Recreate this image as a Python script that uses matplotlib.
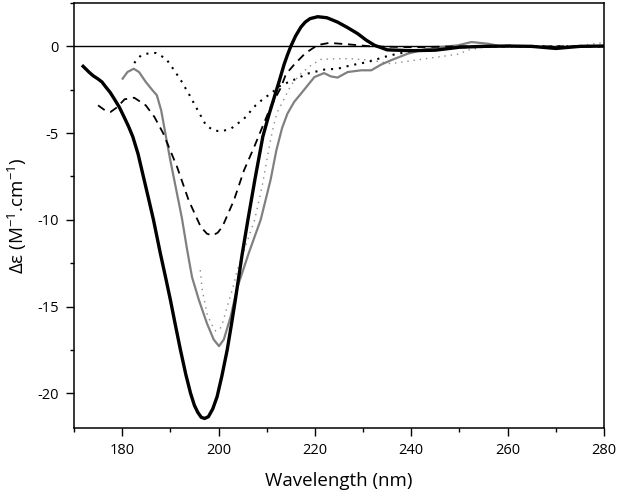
import matplotlib
matplotlib.use("Agg")
import matplotlib.pyplot as plt
from matplotlib.ticker import MultipleLocator

# ---- data ----
thick_wl = [171.9, 173.1, 174.0, 174.9, 175.8, 176.6, 177.5, 178.3, 179.4, 180.4, 181.3, 182.2,
            183.3, 184.4, 185.5, 186.5, 187.9, 189.0, 190.0, 191.0, 192.1, 193.2, 194.2, 195.0,
            195.7, 196.4, 197.1, 197.9, 198.8, 199.7, 200.7, 201.8, 202.7, 203.5, 204.9, 206.1,
            207.6, 209.2, 210.4, 211.5, 212.6, 213.6, 214.3, 215.0, 216.0, 217.1, 218.0, 219.0,
            220.6, 222.5, 224.7, 226.8, 228.9, 230.7, 232.4, 235.0, 240.0, 245.0, 250.0, 255.0,
            260.0, 265.0, 270.0, 275.0, 280.0]
thick_de = [-1.15, -1.48, -1.7, -1.86, -2.05, -2.34, -2.65, -3.0, -3.5, -4.07, -4.6, -5.2,
            -6.2, -7.5, -8.8, -10.0, -11.9, -13.3, -14.6, -16.0, -17.5, -18.9, -20.0, -20.7,
            -21.1, -21.38, -21.45, -21.35, -20.9, -20.2, -19.0, -17.5, -16.0, -14.6, -12.0, -10.0,
            -7.6, -5.2, -4.0, -3.0, -2.0, -1.05, -0.5, 0.0, 0.6, 1.11, 1.4, 1.6,
            1.71, 1.65, 1.4, 1.08, 0.73, 0.35, 0.06, -0.2, -0.25, -0.22, -0.05, 0.0,
            0.02, 0.0, -0.12, 0.0, 0.02]

dash_wl = [175.0, 176.5, 177.6, 179.0, 180.5, 182.5, 184.9, 186.7, 188.5, 191.4, 193.8, 196.3,
           197.6, 198.7, 199.8, 200.8, 203.2, 205.3, 207.4, 209.1, 210.8, 212.9, 214.0, 215.7,
           218.0, 220.6, 223.0, 226.8, 231.7, 240.0, 250.0, 260.0, 270.0, 280.0]
dash_de = [-3.4, -3.7, -3.78, -3.5, -3.05, -2.96, -3.4, -4.07, -5.0, -6.95, -8.87, -10.4,
           -10.8, -10.9, -10.75, -10.4, -8.87, -7.14, -5.8, -4.65, -3.5, -2.4, -1.6, -1.05,
           -0.4, 0.08, 0.2, 0.12, 0.0, -0.05, 0.0, 0.0, 0.0, 0.0]

dot_wl = [182.5, 183.9, 185.5, 187.0, 189.1, 190.8, 192.2, 194.0, 195.7, 197.4, 199.0, 200.6,
          202.6, 205.3, 207.7, 209.4, 210.8, 212.9, 215.4, 218.5, 221.9, 224.7, 227.5, 231.0,
          234.4, 237.2, 241.4, 246.3, 250.0, 260.0, 270.0, 280.0]
dot_de = [-0.96, -0.52, -0.4, -0.38, -0.71, -1.38, -1.96, -2.82, -3.69, -4.55, -4.85, -4.9,
          -4.74, -4.17, -3.4, -3.0, -2.73, -2.25, -1.96, -1.57, -1.34, -1.29, -1.09, -0.9,
          -0.61, -0.42, -0.23, -0.13, -0.05, 0.0, 0.0, 0.0]

grey_wl = [180.1, 181.1, 182.4, 183.5, 184.9, 186.3, 187.2, 188.1, 189.1, 190.0, 192.4, 193.5,
           194.5, 195.9, 197.6, 199.0, 200.1, 201.1, 202.5, 203.9, 206.3, 208.75, 210.8, 212.0,
           213.2, 214.3, 215.7, 217.1, 219.9, 221.9, 223.3, 224.7, 226.8, 229.6, 231.7, 233.75,
           235.8, 239.3, 242.8, 246.25, 249.7, 252.5, 256.0, 258.75, 260.5]
grey_de = [-1.86, -1.48, -1.29, -1.48, -2.05, -2.53, -2.82, -3.69, -5.22, -6.57, -9.9, -11.75,
           -13.3, -14.6, -15.97, -16.9, -17.28, -16.9, -15.6, -13.9, -11.9, -10.0, -7.7, -6.0,
           -4.7, -3.88, -3.2, -2.73, -1.77, -1.54, -1.73, -1.8, -1.48, -1.38, -1.38, -1.05,
           -0.8, -0.42, -0.17, -0.04, 0.06, 0.25, 0.15, 0.0, 0.05]

gdot_wl = [196.2, 196.6, 197.6, 198.5, 199.4, 200.3, 200.8, 201.8, 202.9, 203.9, 205.0, 206.5,
           207.5, 208.3, 209.1, 210.0, 210.8, 211.5, 212.2, 213.3, 215.0, 217.1, 219.2, 221.25,
           224.7, 227.5, 231.7, 235.8, 240.7, 245.6, 249.7, 252.0, 255.0, 260.0, 265.0, 270.0,
           275.0, 279.5]
gdot_de = [-12.9, -14.0, -15.4, -16.0, -16.4, -16.3, -16.0, -15.0, -14.0, -12.9, -12.0, -10.8,
           -10.0, -9.0, -8.0, -6.6, -5.4, -4.5, -3.8, -3.2, -2.25, -1.57, -1.09, -0.75,
           -0.71, -0.71, -0.8, -1.0, -0.8, -0.61, -0.45, -0.2, -0.05, 0.0, 0.05, 0.0,
           0.05, 0.2]

x_ticks = [180, 200, 220, 240, 260, 280]
y_ticks = [-20, -15, -10, -5, 0]

plt.rcParams['font.family'] = ['Open Sans', 'DejaVu Sans']

fig = plt.figure(figsize=(6.18, 5.0), dpi=100)
ax = fig.add_axes([0.1197, 0.144, 0.8576, 0.850])

ax.axhline(0, color='black', lw=1.0, zorder=1)
ax.plot(gdot_wl, gdot_de, color='#8a8a8a', lw=1.0, linestyle=(0, (1, 3.5)), zorder=2)
ax.plot(dot_wl, dot_de, color='black', lw=1.5, linestyle=(0, (1, 2.8)), zorder=3)
ax.plot(grey_wl, grey_de, color='#808080', lw=1.6, zorder=3, solid_joinstyle='round')
ax.plot(dash_wl, dash_de, color='black', lw=1.3, linestyle=(0, (4.5, 3.2)), zorder=4)
ax.plot(thick_wl, thick_de, color='black', lw=2.4, zorder=5, solid_joinstyle='round')

ax.set_xlim(170, 280)
ax.set_ylim(-22, 2.5)
ax.set_xticks(x_ticks)
ax.set_yticks(y_ticks)
ax.set_yticklabels([str(v) for v in y_ticks])
ax.xaxis.set_minor_locator(MultipleLocator(10))
ax.yaxis.set_minor_locator(MultipleLocator(2.5))
ax.tick_params(which='major', direction='out', length=6, width=1.0, labelsize=10.5, pad=5,
               top=False, right=False)
ax.tick_params(which='minor', direction='out', length=3, width=1.0, top=False, right=False)
for s in ax.spines.values():
    s.set_linewidth(1.1)

ax.set_xlabel('Wavelength (nm)', fontsize=13.5, labelpad=10)
ax.set_ylabel('Δε (M$^{\\mathregular{-1}}$.cm$^{\\mathregular{-1}}$)', fontsize=13.5, labelpad=6)

fig.savefig('out.png', dpi=100)
